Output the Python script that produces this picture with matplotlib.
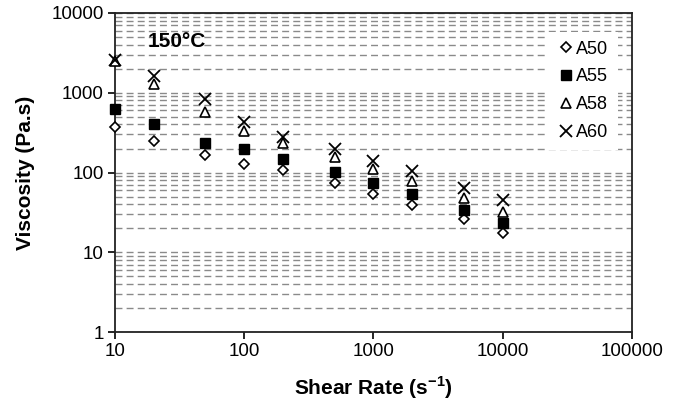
import matplotlib
matplotlib.use("Agg")
import matplotlib.pyplot as plt
from matplotlib.ticker import LogLocator, FixedLocator, NullFormatter

plt.rcParams["font.family"] = ["Liberation Sans", "DejaVu Sans"]
plt.rcParams["mathtext.fontset"] = "custom"
plt.rcParams["mathtext.rm"] = "Liberation Sans"
plt.rcParams["mathtext.bf"] = "Liberation Sans:bold"

# data (shear rate in 1/s, viscosity in Pa.s)
shear = [10, 20, 50, 100, 200, 500, 1000, 2000, 5000, 10000]
a50 = [370, 250, 166, 128, 107, 74, 54, 39, 26, 17.5]
a55 = [620, 405, 232, 197, 148, 102, 73, 54, 34, 23]
a58 = [2500, 1275, 570, 330, 232, 158, 111, 78, 47.5, 32]
a60 = [2600, 1620, 830, 425, 276, 195, 139, 104, 64, 45]
labels = ["A50", "A55", "A58", "A60"]

fig = plt.figure(figsize=(6.74, 4.05), dpi=100)
ax = fig.add_axes([0.1706, 0.180, 0.767, 0.788])
ax.set_xscale("log")
ax.set_yscale("log")
ax.set_xlim(10, 100000)
ax.set_ylim(1, 10000)

ax.plot(shear, a50, ls="none", marker="D", ms=5.5, mfc="white", mec="black",
        mew=1.2, label=labels[0], zorder=3, clip_on=False)
ax.plot(shear, a55, ls="none", marker="s", ms=6.5, mfc="black", mec="black",
        label=labels[1], zorder=3, clip_on=False)
ax.plot(shear, a58, ls="none", marker="^", ms=7, mfc="white", mec="black",
        mew=1.2, label=labels[2], zorder=3, clip_on=False)
ax.plot(shear, a60, ls="none", marker="x", ms=8, mec="black", mew=1.3,
        label=labels[3], zorder=4, clip_on=False)

# dashed grid at every major and minor decade step
ax.yaxis.set_major_locator(FixedLocator([1, 10, 100, 1000, 10000]))
ax.yaxis.set_minor_locator(LogLocator(base=10, subs=range(2, 10)))
ax.yaxis.set_minor_formatter(NullFormatter())
ax.set_yticklabels(["1", "10", "100", "1000", "10000"])
ax.xaxis.set_major_locator(FixedLocator([10, 100, 1000, 10000, 100000]))
ax.xaxis.set_minor_locator(FixedLocator([]))
ax.set_xticklabels(["10", "100", "1000", "10000", "100000"])
ax.grid(True, which="both", axis="y", ls=(0, (5, 3)), color="#8a8a8a", lw=1.0)
ax.set_axisbelow(True)

ax.tick_params(axis="both", which="major", direction="out", length=5,
               width=1.2, labelsize=13.5, colors="black", pad=3)
ax.tick_params(axis="y", which="minor", length=0)
for s in ax.spines.values():
    s.set_linewidth(1.3)
    s.set_color("#222222")

ax.text(0.064, 0.91, "150°C", transform=ax.transAxes, fontsize=15,
        fontweight="bold", va="center", ha="left")

leg = ax.legend(loc="upper right", bbox_to_anchor=(0.99, 0.97), frameon=True,
                fontsize=13, handletextpad=0.1, handlelength=1.0,
                labelspacing=0.6, borderpad=0.5, fancybox=False)
leg.get_frame().set_linewidth(0)
leg.get_frame().set_facecolor("white")
leg.get_frame().set_alpha(1.0)

ax.set_xlabel("Shear Rate (s$^{\\mathbf{-1}}$)", fontsize=15, fontweight="bold",
              labelpad=10)
ax.set_ylabel("Viscosity (Pa.s)", fontsize=15, fontweight="bold", labelpad=12)

fig.savefig("out.png", dpi=100)
